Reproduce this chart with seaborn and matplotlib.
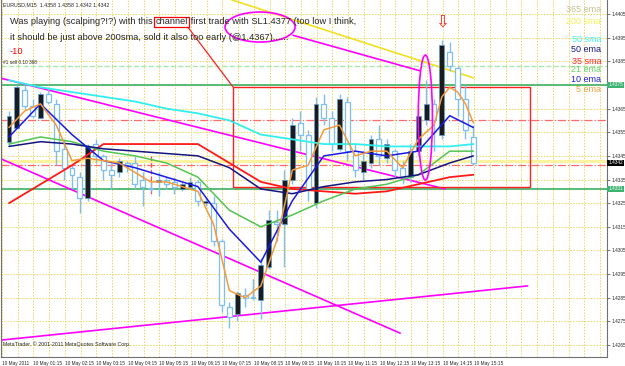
import numpy as np
import pandas as pd
import matplotlib
matplotlib.use("Agg")
import matplotlib.pyplot as plt
import seaborn as sns
from matplotlib.patches import Ellipse, Rectangle
import matplotlib.transforms as mtransforms

# ---------------- data (EURUSD M15, 10 May 2011) ----------------
opens = [1.4351, 1.4357, 1.4373, 1.4366, 1.4361, 1.4371, 1.4367, 1.4348, 1.4340, 1.4336,
         1.4327, 1.4350, 1.4345, 1.4339, 1.4338, 1.4342, 1.4342, 1.4335, 1.4331, 1.4334,
         1.4335, 1.4334, 1.4331, 1.4332, 1.4334, 1.4325, 1.4325, 1.4309, 1.4281, 1.4278,
         1.4286, 1.4285, 1.4284, 1.4298, 1.4317, 1.4316, 1.4335, 1.4359, 1.4354, 1.4325,
         1.4367, 1.4361, 1.4348, 1.4368, 1.4347, 1.4338, 1.4342, 1.4352, 1.4344, 1.4347,
         1.4340, 1.4336, 1.4347, 1.4360, 1.4367, 1.4354, 1.4389, 1.4382, 1.4369, 1.4353]
highs = [1.4364, 1.4375, 1.4375, 1.4369, 1.4372, 1.4374, 1.4369, 1.4352, 1.4342, 1.4338,
         1.4350, 1.4352, 1.4346, 1.4342, 1.4344, 1.4343, 1.4345, 1.4338, 1.4334, 1.4338,
         1.4336, 1.4336, 1.4334, 1.4336, 1.4335, 1.4327, 1.4328, 1.4310, 1.4283, 1.4288,
         1.4289, 1.4293, 1.4302, 1.4322, 1.4322, 1.4339, 1.4361, 1.4364, 1.4356, 1.4370,
         1.4371, 1.4364, 1.4371, 1.4370, 1.4350, 1.4347, 1.4354, 1.4358, 1.4352, 1.4348,
         1.4343, 1.4350, 1.4364, 1.4377, 1.4369, 1.4394, 1.4393, 1.4383, 1.4375, 1.4358]
lows = [1.4349, 1.4357, 1.4365, 1.4361, 1.4361, 1.4367, 1.4341, 1.4335, 1.4331, 1.4321,
        1.4326, 1.4342, 1.4335, 1.4331, 1.4336, 1.4338, 1.4331, 1.4324, 1.4330, 1.4328,
        1.4331, 1.4329, 1.4330, 1.4331, 1.4324, 1.4324, 1.4307, 1.4279, 1.4272, 1.4275,
        1.4281, 1.4284, 1.4276, 1.4297, 1.4309, 1.4298, 1.4333, 1.4347, 1.4326, 1.4323,
        1.4358, 1.4347, 1.4347, 1.4343, 1.4336, 1.4335, 1.4340, 1.4341, 1.4342, 1.4336,
        1.4333, 1.4334, 1.4345, 1.4358, 1.4347, 1.4352, 1.4381, 1.4362, 1.4352, 1.4341]
closes = [1.4362, 1.4374, 1.4366, 1.4362, 1.4371, 1.4368, 1.4347, 1.4340, 1.4337, 1.4327,
          1.4349, 1.4345, 1.4339, 1.4337, 1.4343, 1.4341, 1.4333, 1.4332, 1.4331, 1.4335,
          1.4333, 1.4332, 1.4333, 1.4334, 1.4326, 1.4326, 1.4309, 1.4282, 1.4277, 1.4287,
          1.4285, 1.4285, 1.4299, 1.4318, 1.4316, 1.4335, 1.4358, 1.4354, 1.4331, 1.4367,
          1.4361, 1.4350, 1.4369, 1.4347, 1.4339, 1.4343, 1.4352, 1.4345, 1.4350, 1.4339,
          1.4336, 1.4347, 1.4362, 1.4367, 1.4360, 1.4392, 1.4383, 1.4369, 1.4356, 1.4342]

# moving averages (bar index -> value)
ma_idx = [0, 4, 8, 12, 16, 20, 24, 28, 32, 36, 40, 44, 48, 52, 56, 59]
sma50 = [1.4377, 1.4374, 1.4372, 1.4370, 1.4368, 1.4365, 1.4363, 1.4360, 1.4354, 1.4352,
         1.4350, 1.4350, 1.4349, 1.4349, 1.4349, 1.4350]
sma35 = [1.4325, 1.4333, 1.4341, 1.4350, 1.4350, 1.4350, 1.4350, 1.4342, 1.4334, 1.4331,
         1.4330, 1.4329, 1.4330, 1.4333, 1.4336, 1.4337]
ema21 = [1.4350, 1.4353, 1.4351, 1.4347, 1.4345, 1.4342, 1.4336, 1.4322, 1.4315, 1.4320,
         1.4326, 1.4331, 1.4333, 1.4337, 1.4347, 1.4347]
ema50 = [1.4349, 1.4351, 1.4350, 1.4348, 1.4347, 1.4346, 1.4345, 1.4340, 1.4331, 1.4329,
         1.4332, 1.4334, 1.4335, 1.4337, 1.4342, 1.4345]
ema10 = [1.4353, 1.4367, 1.4354, 1.4343, 1.4340, 1.4336, 1.4332, 1.4314, 1.4300, 1.4326,
         1.4345, 1.4347, 1.4345, 1.4347, 1.4362, 1.4357]
ema5_idx = [0, 2, 4, 6, 8, 10, 12, 14, 16, 18, 20, 22, 24, 26, 28, 30, 32, 34, 36, 38,
            40, 42, 44, 46, 48, 50, 52, 54, 55, 56, 57, 58, 59]
ema5 = [1.4357, 1.4364, 1.4367, 1.4358, 1.4343, 1.4344, 1.4343, 1.4342, 1.4338, 1.4334,
        1.4334, 1.4332, 1.4330, 1.4316, 1.4288, 1.4285, 1.4290, 1.4309, 1.4339, 1.4341,
        1.4356, 1.4358, 1.4345, 1.4347, 1.4347, 1.4340, 1.4352, 1.4358, 1.4370, 1.4374,
        1.4372, 1.4367, 1.4359]
sma200 = 1.4343

# horizontal levels
green_levels = [1.4375, 1.4331]
red_levels = [1.4360, 1.4341]
order_level = 1.4383
last_price = 1.4342

# drawn objects (bar index, price)
channel_upper = ([-1.2, 55.4], [1.4378, 1.4331])
channel_lower = ([-1.2, 49.7], [1.4344, 1.4270])
support_line = ([-1.2, 65.9], [1.4267, 1.4290])
note_line = ([36.1, 52.2], [1.4396, 1.4381])
yellow_line = ([28.3, 59.0], [1.4411, 1.4378])
box_rect = (28.5, 66.2, 1.4332, 1.4374)
box_link = ([22.6, 28.5], [1.4400, 1.4374])
trade_marks = [([18, 18], [1.4345, 1.4328]), ([31, 31], [1.4293, 1.4285])]

time_labels = ["10 May 2011", "10 May 01:15", "10 May 02:15", "10 May 03:15", "10 May 04:15",
               "10 May 05:15", "10 May 06:15", "10 May 07:15", "10 May 08:15", "10 May 09:15",
               "10 May 10:15", "10 May 11:15", "10 May 12:15", "10 May 13:15", "10 May 14:15",
               "10 May 15:15"]
price_ticks = [1.4265, 1.4275, 1.4285, 1.4295, 1.4305, 1.4315, 1.4325, 1.4335, 1.4345,
               1.4355, 1.4365, 1.4375, 1.4385, 1.4395, 1.4405]
legend_names = ["365 ema", "200 sma", "50 sma", "50 ema", "35 sma", "21 ema", "10 ema", "5 ema"]
legend_colors = ["#c8bf8c", "#f2f25a", "#3ff0f0", "#1a1a8c", "#ff2a2a", "#66d166", "#2020e0", "#f4a040"]

# ---------------- figure ----------------
sns.set_style("white")
plt.rcParams['font.family'] = ['Liberation Sans', 'DejaVu Sans']

W, H = 625, 366
fig = plt.figure(figsize=(W / 100, H / 100), dpi=100)
ax = fig.add_axes([1 / W, 9 / H, 606 / W, 357 / H])
ax.set_xlim(-1.017, 75.98)
ax.set_ylim(1.425992, 1.441094)

df = pd.DataFrame({"i": np.arange(len(opens)), "o": opens, "h": highs, "l": lows, "c": closes})

# grid
maj = [-0.9 + 4 * k for k in range(len(time_labels))]
minr = [-0.9 + 2 * k for k in range(39)]
gridc = "#ecd660"
for xv in minr:
    ax.axvline(xv, color=gridc, lw=0.7, ls=(0, (1.5, 1.5)), zorder=0)
for yv in price_ticks:
    ax.axhline(yv, color=gridc, lw=0.7, ls=(0, (1.5, 1.5)), zorder=0)

# horizontal levels
ax.axhline(sma200, color="#fff3a0", lw=2.2, zorder=1)
for lv in green_levels:
    ax.axhline(lv, color="#4cb56e", lw=1.3, zorder=1)
for lv in red_levels:
    ax.axhline(lv, color="#ff6a6a", lw=0.9, ls="-.", zorder=1)
ax.axhline(order_level, color="#a8e8a8", lw=1.0, ls="--", zorder=1)

# drawn trend lines
ax.plot(*channel_upper, color="#ff00ff", lw=1.2, zorder=2)
ax.plot(*channel_lower, color="#ff00ff", lw=1.2, zorder=2)
ax.plot(*support_line, color="#ff00ff", lw=1.2, zorder=2)
ax.plot(*note_line, color="#ff00ff", lw=1.2, zorder=2)
ax.plot(*yellow_line, color="#f0e020", lw=1.2, zorder=2)
for tx, ty in trade_marks:
    ax.plot(tx, ty, color="#ff5050", lw=0.9, ls="--", zorder=2)

# red channel box
x0, x1, y0, y1 = box_rect
ax.add_patch(Rectangle((x0, y0), x1 - x0, y1 - y0, fill=False, ec="#ff2020", lw=1.0, zorder=2))
ax.plot(*box_link, color="#ff2020", lw=0.9, zorder=2)

# candles
wick = "#7fbff0"
ax.vlines(df["i"], df["l"], df["h"], color=wick, lw=1.0, zorder=3)
bull = df[df["c"] > df["o"]]
bear = df[df["c"] <= df["o"]]
ax.bar(bull["i"], (bull["c"] - bull["o"]).clip(lower=0.00004), bottom=bull["o"], width=0.62,
       color="#1c1c1c", edgecolor="#5a9fd6", lw=0.5, zorder=3)
ax.bar(bear["i"], (bear["o"] - bear["c"]).clip(lower=0.00004), bottom=bear["c"], width=0.62,
       color="white", edgecolor=wick, lw=0.9, zorder=3)

# moving averages
sns.lineplot(x=ma_idx, y=sma50, color="#33eeee", lw=1.3, ax=ax, zorder=4)
sns.lineplot(x=ma_idx, y=sma35, color="#ff1a1a", lw=1.3, ax=ax, zorder=4)
sns.lineplot(x=ma_idx, y=ema21, color="#52c552", lw=1.1, ax=ax, zorder=4)
sns.lineplot(x=ma_idx, y=ema50, color="#141480", lw=1.1, ax=ax, zorder=4)
sns.lineplot(x=ma_idx, y=ema10, color="#1a1ae6", lw=1.1, ax=ax, zorder=4)
sns.lineplot(x=ema5_idx, y=ema5, color="#f39a3a", lw=1.1, ax=ax, zorder=4)

# ellipses
ax.add_patch(Ellipse((31.9, 1.43995), 8.9, 0.00127, fill=False, ec="#ff00ff", lw=1.2, zorder=5))
ax.add_patch(Ellipse((52.9, 1.43612), 1.8, 0.00529, fill=False, ec="#ff00ff", lw=1.2, zorder=5))

# arrow
ax.text(55.0, 1.4402, "\u21e9", color="#ff2020", fontsize=12, ha="center", va="center",
        family="DejaVu Sans", zorder=6)

# annotation text
tr = mtransforms.blended_transform_factory(ax.transAxes, ax.transData)
px = lambda x, y: (x / 606, 1 - y / 357)
FS = 6.65
t1 = ax.text(*px(9, 22), "Was playing (scalping?!?) with this ", transform=ax.transAxes,
             fontsize=FS, va="center", ha="left", zorder=7)
t2 = ax.annotate("channel", xy=(1, 0.5), xycoords=t1, va="center", ha="left", fontsize=FS,
                 bbox=dict(boxstyle="square,pad=0.1", fc="white", ec="#ff0000", lw=0.9), zorder=7)
t3 = ax.annotate(" first trade with SL1.4377 (too low I think,", xy=(1, 0.5), xycoords=t2,
                 va="center", ha="left", fontsize=FS, zorder=7)
ax.text(*px(9, 37), "it should be just above 200sma, sold it also too early (@1.4367)......",
        transform=ax.transAxes, fontsize=FS, va="center", ha="left", zorder=7)
ax.text(*px(9, 52), "-10", transform=ax.transAxes, fontsize=FS, va="center", ha="left",
        color="#ff0000", zorder=7)
ax.text(*px(2, 5), "EURUSD,M15  1.4358 1.4358 1.4342 1.4342", transform=ax.transAxes,
        fontsize=3.8, va="center", ha="left", zorder=7)
ax.text(*px(2, 62), "#1 sell 0.10 368", transform=ax.transAxes,
        fontsize=3.4, va="center", ha="left", zorder=7)
ax.text(*px(2, 344), "MetaTrader, \u00a9 2001-2011 MetaQuotes Software Corp.", transform=ax.transAxes,
        fontsize=3.8, va="center", ha="left", zorder=7)

# indicator legend
leg_y = [9, 21, 40, 50, 61, 70, 80, 90]
for name, col, yy in zip(legend_names, legend_colors, leg_y):
    ax.text(*px(600, yy), name, transform=ax.transAxes, fontsize=6.5, color=col,
            ha="right", va="center", zorder=7)

# axes
ax.yaxis.tick_right()
ax.set_yticks(price_ticks)
ax.set_yticklabels([f"{p:.4f}" if p != 1.4375 else "" for p in price_ticks])
ax.set_xticks(maj)
ax.set_xticklabels(time_labels, ha="left")
ax.tick_params(axis="both", labelsize=3.4, length=2, width=0.6, color="#606060", pad=1)
for s in ["top"]:
    ax.spines[s].set_visible(False)
for s in ["left", "right", "bottom"]:
    ax.spines[s].set_color("#707070")
    ax.spines[s].set_linewidth(0.8)

# price boxes on the axis
for lv in green_levels:
    ax.text(1.002, lv, f"{lv:.4f}", transform=tr, fontsize=3.4, color="white", va="center",
            ha="left", bbox=dict(boxstyle="square,pad=0.2", fc="#3cb371", ec="none"), zorder=8,
            clip_on=False)
ax.text(1.002, last_price, f"{last_price:.4f}", transform=tr, fontsize=3.4, color="white",
        va="center", ha="left", bbox=dict(boxstyle="square,pad=0.2", fc="black", ec="none"),
        zorder=8, clip_on=False)

fig.savefig("out.png", dpi=100, facecolor="white")
